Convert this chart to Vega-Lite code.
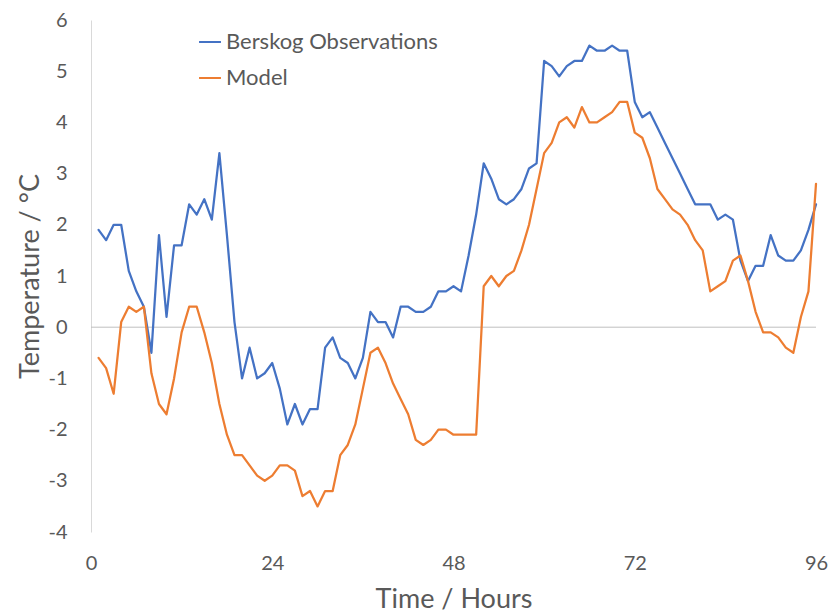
{
"$schema": "https://vega.github.io/schema/vega-lite/v6.json",
"width": 725, "height": 512,
"autosize": {"type": "none"},
"padding": {"left": 91, "top": 20, "right": 19, "bottom": 82},
"config": {"view": {"stroke": null}, "font": "Lato", "background": "white"},
"data": {"values": [
{"hour":1,"temp":1.9,"series":"Berskog Observations"},{"hour":2,"temp":1.7,"series":"Berskog Observations"},{"hour":3,"temp":2.0,"series":"Berskog Observations"},{"hour":4,"temp":2.0,"series":"Berskog Observations"},{"hour":5,"temp":1.1,"series":"Berskog Observations"},{"hour":6,"temp":0.7,"series":"Berskog Observations"},{"hour":7,"temp":0.4,"series":"Berskog Observations"},{"hour":8,"temp":-0.5,"series":"Berskog Observations"},{"hour":9,"temp":1.8,"series":"Berskog Observations"},{"hour":10,"temp":0.2,"series":"Berskog Observations"},{"hour":11,"temp":1.6,"series":"Berskog Observations"},{"hour":12,"temp":1.6,"series":"Berskog Observations"},{"hour":13,"temp":2.4,"series":"Berskog Observations"},{"hour":14,"temp":2.2,"series":"Berskog Observations"},{"hour":15,"temp":2.5,"series":"Berskog Observations"},{"hour":16,"temp":2.1,"series":"Berskog Observations"},{"hour":17,"temp":3.4,"series":"Berskog Observations"},{"hour":18,"temp":1.8,"series":"Berskog Observations"},{"hour":19,"temp":0.1,"series":"Berskog Observations"},{"hour":20,"temp":-1.0,"series":"Berskog Observations"},{"hour":21,"temp":-0.4,"series":"Berskog Observations"},{"hour":22,"temp":-1.0,"series":"Berskog Observations"},{"hour":23,"temp":-0.9,"series":"Berskog Observations"},{"hour":24,"temp":-0.7,"series":"Berskog Observations"},{"hour":25,"temp":-1.2,"series":"Berskog Observations"},{"hour":26,"temp":-1.9,"series":"Berskog Observations"},{"hour":27,"temp":-1.5,"series":"Berskog Observations"},{"hour":28,"temp":-1.9,"series":"Berskog Observations"},{"hour":29,"temp":-1.6,"series":"Berskog Observations"},{"hour":30,"temp":-1.6,"series":"Berskog Observations"},{"hour":31,"temp":-0.4,"series":"Berskog Observations"},{"hour":32,"temp":-0.2,"series":"Berskog Observations"},{"hour":33,"temp":-0.6,"series":"Berskog Observations"},{"hour":34,"temp":-0.7,"series":"Berskog Observations"},{"hour":35,"temp":-1.0,"series":"Berskog Observations"},{"hour":36,"temp":-0.6,"series":"Berskog Observations"},{"hour":37,"temp":0.3,"series":"Berskog Observations"},{"hour":38,"temp":0.1,"series":"Berskog Observations"},{"hour":39,"temp":0.1,"series":"Berskog Observations"},{"hour":40,"temp":-0.2,"series":"Berskog Observations"},{"hour":41,"temp":0.4,"series":"Berskog Observations"},{"hour":42,"temp":0.4,"series":"Berskog Observations"},{"hour":43,"temp":0.3,"series":"Berskog Observations"},{"hour":44,"temp":0.3,"series":"Berskog Observations"},{"hour":45,"temp":0.4,"series":"Berskog Observations"},{"hour":46,"temp":0.7,"series":"Berskog Observations"},{"hour":47,"temp":0.7,"series":"Berskog Observations"},{"hour":48,"temp":0.8,"series":"Berskog Observations"},{"hour":49,"temp":0.7,"series":"Berskog Observations"},{"hour":50,"temp":1.4,"series":"Berskog Observations"},{"hour":51,"temp":2.2,"series":"Berskog Observations"},{"hour":52,"temp":3.2,"series":"Berskog Observations"},{"hour":53,"temp":2.9,"series":"Berskog Observations"},{"hour":54,"temp":2.5,"series":"Berskog Observations"},{"hour":55,"temp":2.4,"series":"Berskog Observations"},{"hour":56,"temp":2.5,"series":"Berskog Observations"},{"hour":57,"temp":2.7,"series":"Berskog Observations"},{"hour":58,"temp":3.1,"series":"Berskog Observations"},{"hour":59,"temp":3.2,"series":"Berskog Observations"},{"hour":60,"temp":5.2,"series":"Berskog Observations"},{"hour":61,"temp":5.1,"series":"Berskog Observations"},{"hour":62,"temp":4.9,"series":"Berskog Observations"},{"hour":63,"temp":5.1,"series":"Berskog Observations"},{"hour":64,"temp":5.2,"series":"Berskog Observations"},{"hour":65,"temp":5.2,"series":"Berskog Observations"},{"hour":66,"temp":5.5,"series":"Berskog Observations"},{"hour":67,"temp":5.4,"series":"Berskog Observations"},{"hour":68,"temp":5.4,"series":"Berskog Observations"},{"hour":69,"temp":5.5,"series":"Berskog Observations"},{"hour":70,"temp":5.4,"series":"Berskog Observations"},{"hour":71,"temp":5.4,"series":"Berskog Observations"},{"hour":72,"temp":4.4,"series":"Berskog Observations"},{"hour":73,"temp":4.1,"series":"Berskog Observations"},{"hour":74,"temp":4.2,"series":"Berskog Observations"},{"hour":75,"temp":3.9,"series":"Berskog Observations"},{"hour":76,"temp":3.6,"series":"Berskog Observations"},{"hour":77,"temp":3.3,"series":"Berskog Observations"},{"hour":78,"temp":3.0,"series":"Berskog Observations"},{"hour":79,"temp":2.7,"series":"Berskog Observations"},{"hour":80,"temp":2.4,"series":"Berskog Observations"},{"hour":81,"temp":2.4,"series":"Berskog Observations"},{"hour":82,"temp":2.4,"series":"Berskog Observations"},{"hour":83,"temp":2.1,"series":"Berskog Observations"},{"hour":84,"temp":2.2,"series":"Berskog Observations"},{"hour":85,"temp":2.1,"series":"Berskog Observations"},{"hour":86,"temp":1.3,"series":"Berskog Observations"},{"hour":87,"temp":0.9,"series":"Berskog Observations"},{"hour":88,"temp":1.2,"series":"Berskog Observations"},{"hour":89,"temp":1.2,"series":"Berskog Observations"},{"hour":90,"temp":1.8,"series":"Berskog Observations"},{"hour":91,"temp":1.4,"series":"Berskog Observations"},{"hour":92,"temp":1.3,"series":"Berskog Observations"},{"hour":93,"temp":1.3,"series":"Berskog Observations"},{"hour":94,"temp":1.5,"series":"Berskog Observations"},{"hour":95,"temp":1.9,"series":"Berskog Observations"},{"hour":96,"temp":2.4,"series":"Berskog Observations"},
{"hour":1,"temp":-0.6,"series":"Model"},{"hour":2,"temp":-0.8,"series":"Model"},{"hour":3,"temp":-1.3,"series":"Model"},{"hour":4,"temp":0.1,"series":"Model"},{"hour":5,"temp":0.4,"series":"Model"},{"hour":6,"temp":0.3,"series":"Model"},{"hour":7,"temp":0.4,"series":"Model"},{"hour":8,"temp":-0.9,"series":"Model"},{"hour":9,"temp":-1.5,"series":"Model"},{"hour":10,"temp":-1.7,"series":"Model"},{"hour":11,"temp":-1.0,"series":"Model"},{"hour":12,"temp":-0.1,"series":"Model"},{"hour":13,"temp":0.4,"series":"Model"},{"hour":14,"temp":0.4,"series":"Model"},{"hour":15,"temp":-0.1,"series":"Model"},{"hour":16,"temp":-0.7,"series":"Model"},{"hour":17,"temp":-1.5,"series":"Model"},{"hour":18,"temp":-2.1,"series":"Model"},{"hour":19,"temp":-2.5,"series":"Model"},{"hour":20,"temp":-2.5,"series":"Model"},{"hour":21,"temp":-2.7,"series":"Model"},{"hour":22,"temp":-2.9,"series":"Model"},{"hour":23,"temp":-3.0,"series":"Model"},{"hour":24,"temp":-2.9,"series":"Model"},{"hour":25,"temp":-2.7,"series":"Model"},{"hour":26,"temp":-2.7,"series":"Model"},{"hour":27,"temp":-2.8,"series":"Model"},{"hour":28,"temp":-3.3,"series":"Model"},{"hour":29,"temp":-3.2,"series":"Model"},{"hour":30,"temp":-3.5,"series":"Model"},{"hour":31,"temp":-3.2,"series":"Model"},{"hour":32,"temp":-3.2,"series":"Model"},{"hour":33,"temp":-2.5,"series":"Model"},{"hour":34,"temp":-2.3,"series":"Model"},{"hour":35,"temp":-1.9,"series":"Model"},{"hour":36,"temp":-1.2,"series":"Model"},{"hour":37,"temp":-0.5,"series":"Model"},{"hour":38,"temp":-0.4,"series":"Model"},{"hour":39,"temp":-0.7,"series":"Model"},{"hour":40,"temp":-1.1,"series":"Model"},{"hour":41,"temp":-1.4,"series":"Model"},{"hour":42,"temp":-1.7,"series":"Model"},{"hour":43,"temp":-2.2,"series":"Model"},{"hour":44,"temp":-2.3,"series":"Model"},{"hour":45,"temp":-2.2,"series":"Model"},{"hour":46,"temp":-2.0,"series":"Model"},{"hour":47,"temp":-2.0,"series":"Model"},{"hour":48,"temp":-2.1,"series":"Model"},{"hour":49,"temp":-2.1,"series":"Model"},{"hour":50,"temp":-2.1,"series":"Model"},{"hour":51,"temp":-2.1,"series":"Model"},{"hour":52,"temp":0.8,"series":"Model"},{"hour":53,"temp":1.0,"series":"Model"},{"hour":54,"temp":0.8,"series":"Model"},{"hour":55,"temp":1.0,"series":"Model"},{"hour":56,"temp":1.1,"series":"Model"},{"hour":57,"temp":1.5,"series":"Model"},{"hour":58,"temp":2.0,"series":"Model"},{"hour":59,"temp":2.7,"series":"Model"},{"hour":60,"temp":3.4,"series":"Model"},{"hour":61,"temp":3.6,"series":"Model"},{"hour":62,"temp":4.0,"series":"Model"},{"hour":63,"temp":4.1,"series":"Model"},{"hour":64,"temp":3.9,"series":"Model"},{"hour":65,"temp":4.3,"series":"Model"},{"hour":66,"temp":4.0,"series":"Model"},{"hour":67,"temp":4.0,"series":"Model"},{"hour":68,"temp":4.1,"series":"Model"},{"hour":69,"temp":4.2,"series":"Model"},{"hour":70,"temp":4.4,"series":"Model"},{"hour":71,"temp":4.4,"series":"Model"},{"hour":72,"temp":3.8,"series":"Model"},{"hour":73,"temp":3.7,"series":"Model"},{"hour":74,"temp":3.3,"series":"Model"},{"hour":75,"temp":2.7,"series":"Model"},{"hour":76,"temp":2.5,"series":"Model"},{"hour":77,"temp":2.3,"series":"Model"},{"hour":78,"temp":2.2,"series":"Model"},{"hour":79,"temp":2.0,"series":"Model"},{"hour":80,"temp":1.7,"series":"Model"},{"hour":81,"temp":1.5,"series":"Model"},{"hour":82,"temp":0.7,"series":"Model"},{"hour":83,"temp":0.8,"series":"Model"},{"hour":84,"temp":0.9,"series":"Model"},{"hour":85,"temp":1.3,"series":"Model"},{"hour":86,"temp":1.4,"series":"Model"},{"hour":87,"temp":0.9,"series":"Model"},{"hour":88,"temp":0.3,"series":"Model"},{"hour":89,"temp":-0.1,"series":"Model"},{"hour":90,"temp":-0.1,"series":"Model"},{"hour":91,"temp":-0.2,"series":"Model"},{"hour":92,"temp":-0.4,"series":"Model"},{"hour":93,"temp":-0.5,"series":"Model"},{"hour":94,"temp":0.2,"series":"Model"},{"hour":95,"temp":0.7,"series":"Model"},{"hour":96,"temp":2.8,"series":"Model"}
]},
"layer": [
{
"data": {"values": [{"zero": 0}]},
"mark": {"type": "rule", "color": "#BFBFBF", "strokeWidth": 1},
"encoding": {"y": {"field": "zero", "type": "quantitative"}}
},
{
"mark": {"type": "line", "strokeWidth": 2.25, "strokeJoin": "round", "strokeCap": "round"},
"encoding": {
"x": {"field": "hour", "type": "quantitative", "scale": {"domain": [0, 96], "nice": false},
"axis": {"values": [0, 24, 48, 72, 96], "domain": false, "ticks": false, "grid": false, "labelFlush": false,
"labelFontSize": 20, "labelColor": "#595959", "labelPadding": 21, "labelFont": "Lato",
"title": "Time / Hours", "titleFontSize": 27, "titleFontWeight": "normal", "titleColor": "#595959", "titlePadding": 13, "titleFont": "Lato"}},
"y": {"field": "temp", "type": "quantitative", "scale": {"domain": [-4, 6], "nice": false},
"axis": {"values": [-4,-3,-2,-1,0,1,2,3,4,5,6], "labelExpr": "'' + datum.value", "domain": true, "domainColor": "#D9D9D9", "domainWidth": 1, "ticks": false, "grid": false, "labelFlush": false,
"labelFontSize": 20, "labelColor": "#595959", "labelPadding": 24, "labelFont": "Lato",
"title": "Temperature / °C", "titleFontSize": 27, "titleFontWeight": "normal", "titleColor": "#595959", "titlePadding": 3, "titleFont": "Lato"}},
"color": {"field": "series", "type": "nominal",
"scale": {"domain": ["Berskog Observations", "Model"], "range": ["#4472C4", "#ED7D31"]},
"legend": {"orient": "none", "legendX": 107, "legendY": 10, "title": null, "symbolType": "stroke", "symbolSize": 480, "symbolStrokeWidth": 2,
"labelFontSize": 22, "labelLimit": 400, "labelColor": "#595959", "labelFont": "Lato", "rowPadding": 13, "labelOffset": 4}}
}
}
]
}
